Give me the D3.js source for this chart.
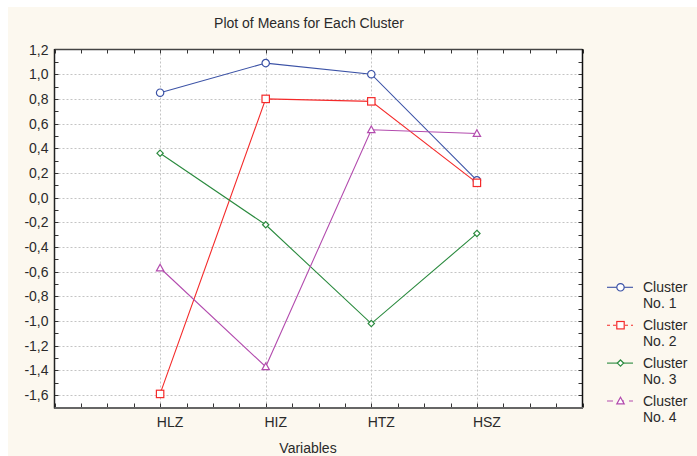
<!DOCTYPE html>
<html>
<head>
<meta charset="utf-8">
<script src="https://cdn.jsdelivr.net/npm/d3@7/dist/d3.min.js"></script>
<style>
  body { margin: 0; background: #fff; }
  svg { display: block; font-family: "Liberation Sans", Arial, sans-serif; }
</style>
</head>
<body>
<div id="chart"></div>
<script>
// Data
const variables = ['HLZ', 'HIZ', 'HTZ', 'HSZ'];
const clusterNames = ['Cluster No. 1', 'Cluster No. 2', 'Cluster No. 3', 'Cluster No. 4'];
const cluster1 = [0.85, 1.09, 1.00, 0.14];
const cluster2 = [-1.59, 0.80, 0.78, 0.12];
const cluster3 = [0.36, -0.22, -1.02, -0.29];
const cluster4 = [-0.57, -1.37, 0.55, 0.52];
const yTicks = [1.2, 1.0, 0.8, 0.6, 0.4, 0.2, 0.0, -0.2, -0.4, -0.6, -0.8, -1.0, -1.2, -1.4, -1.6];

const series = [
    { name: clusterNames[0], values: cluster1, color: '#3b52a6', shape: 'circle', dash: null },
    { name: clusterNames[1], values: cluster2, color: '#f42a2a', shape: 'square', dash: '3,3' },
    { name: clusterNames[2], values: cluster3, color: '#2a8a3e', shape: 'diamond', dash: null },
    { name: clusterNames[3], values: cluster4, color: '#b34cae', shape: 'triangle', dash: '6,5' }
];

const W = 697, H = 456;
const m = { left: 54.5, top: 49.5, right: 582.5, bottom: 407.5 };
const FS = 14, TXT = '#2a2a2a';

const svg = d3.select('#chart').append('svg')
    .attr('width', W).attr('height', H);

// cream panel
svg.append('rect').attr('x', 8).attr('y', 7).attr('width', W - 8).attr('height', H - 7)
    .attr('fill', '#fcf8ef');

const x = d3.scaleLinear().domain([0, 5]).range([m.left, m.right]);
const y = d3.scaleLinear().domain([-1.7, 1.2]).range([m.bottom, m.top]);

// plot area
svg.append('rect')
    .attr('x', m.left).attr('y', m.top)
    .attr('width', m.right - m.left).attr('height', m.bottom - m.top)
    .attr('fill', '#fff');

// grid
const grid = svg.append('g').attr('stroke', '#c4c4c4').attr('stroke-dasharray', '2,2').attr('stroke-width', 1);
yTicks.forEach(v => {
    if (v === 1.2) return;
    grid.append('line').attr('x1', m.left).attr('x2', m.right)
        .attr('y1', Math.round(y(v)) + 0.5).attr('y2', Math.round(y(v)) + 0.5);
});
variables.forEach((v, i) => {
    grid.append('line').attr('x1', Math.round(x(i + 1)) + 0.5).attr('x2', Math.round(x(i + 1)) + 0.5)
        .attr('y1', m.top).attr('y2', m.bottom);
});

// inward ticks
const ticks = svg.append('g').attr('stroke', '#333').attr('stroke-width', 1);
d3.range(-1.7, 1.2001, 0.1).forEach(v => {
    const yy = Math.round(y(v)) + 0.5;
    ticks.append('line').attr('x1', m.left).attr('x2', m.left + 4).attr('y1', yy).attr('y2', yy);
    ticks.append('line').attr('x1', m.right).attr('x2', m.right - 4).attr('y1', yy).attr('y2', yy);
});
d3.range(0, 5.001, 0.25).forEach(v => {
    const xx = Math.round(x(v)) + 0.5;
    ticks.append('line').attr('x1', xx).attr('x2', xx).attr('y1', m.bottom).attr('y2', m.bottom - 4);
    ticks.append('line').attr('x1', xx).attr('x2', xx).attr('y1', m.top).attr('y2', m.top + 4);
});

// frame
svg.append('line').attr('x1', m.left).attr('x2', m.right).attr('y1', m.top).attr('y2', m.top)
    .attr('stroke', '#444').attr('stroke-width', 1.5);
svg.append('line').attr('x1', m.right).attr('x2', m.right).attr('y1', m.top - 0.5).attr('y2', m.bottom)
    .attr('stroke', '#111').attr('stroke-width', 1.5);
svg.append('line').attr('x1', m.left).attr('x2', m.left).attr('y1', m.top - 0.5).attr('y2', m.bottom + 1)
    .attr('stroke', '#222').attr('stroke-width', 1.5);
svg.append('line').attr('x1', m.left).attr('x2', m.right + 0.5).attr('y1', m.bottom + 0.5).attr('y2', m.bottom + 0.5)
    .attr('stroke', '#666').attr('stroke-width', 2);

// y labels
svg.append('g').selectAll('text').data(yTicks).join('text')
    .attr('x', m.left - 6).attr('y', d => y(d) + 5)
    .attr('text-anchor', 'end').attr('font-size', FS).attr('fill', TXT)
    .text(d => d3.format('.1f')(d).replace('.', ',').replace('−', '-'));

// x labels
svg.append('g').selectAll('text').data(variables).join('text')
    .attr('x', (d, i) => x(i + 1) + 10).attr('y', 427)
    .attr('text-anchor', 'middle').attr('font-size', FS).attr('fill', TXT)
    .text(d => d);

// titles
svg.append('text').attr('x', 309).attr('y', 28).attr('text-anchor', 'middle')
    .attr('font-size', FS).attr('fill', TXT).text('Plot of Means for Each Cluster');
svg.append('text').attr('x', 308).attr('y', 453).attr('text-anchor', 'middle')
    .attr('font-size', FS).attr('fill', TXT).text('Variables');

function marker(g, shape, color, size) {
    if (shape === 'circle') {
        g.append('circle').attr('r', size).attr('fill', '#fff').attr('stroke', color).attr('stroke-width', 1.2);
    } else if (shape === 'square') {
        g.append('rect').attr('x', -size).attr('y', -size).attr('width', size * 2).attr('height', size * 2)
            .attr('fill', '#fff').attr('stroke', color).attr('stroke-width', 1.2);
    } else if (shape === 'diamond') {
        const s = size * 0.85;
        g.append('path').attr('d', `M0,${-s}L${s},0L0,${s}L${-s},0Z`)
            .attr('fill', '#fff').attr('stroke', color).attr('stroke-width', 1.2);
    } else {
        const s = size;
        g.append('path').attr('d', `M0,${-s}L${s},${s * 0.8}L${-s},${s * 0.8}Z`)
            .attr('fill', '#fff').attr('stroke', color).attr('stroke-width', 1.2);
    }
}

const line = d3.line().x((d, i) => x(i + 1)).y(d => y(d));
series.forEach(s => {
    svg.append('path').datum(s.values).attr('d', line)
        .attr('fill', 'none').attr('stroke', s.color).attr('stroke-width', 1.1);
});
series.forEach(s => {
    s.values.forEach((v, i) => {
        const g = svg.append('g').attr('transform', `translate(${x(i + 1)},${y(v)})`);
        marker(g, s.shape, s.color, 3.7);
    });
});

// legend
series.forEach((s, i) => {
    const ly = 287.3 + i * 37.9;
    const g = svg.append('g');
    g.append('line').attr('x1', 607).attr('x2', 633).attr('y1', ly).attr('y2', ly)
        .attr('stroke', s.color).attr('stroke-width', 1.1)
        .attr('stroke-dasharray', s.dash);
    const mg = g.append('g').attr('transform', `translate(620.5,${ly})`);
    marker(mg, s.shape, s.color, 3.7);
    const parts = s.name.split(' ');
    g.append('text').attr('x', 643).attr('y', ly + 4.5).attr('font-size', FS).attr('fill', TXT)
        .text(parts[0]);
    g.append('text').attr('x', 643).attr('y', ly + 21).attr('font-size', FS).attr('fill', TXT)
        .text(parts.slice(1).join(' '));
});
</script>
</body>
</html>
